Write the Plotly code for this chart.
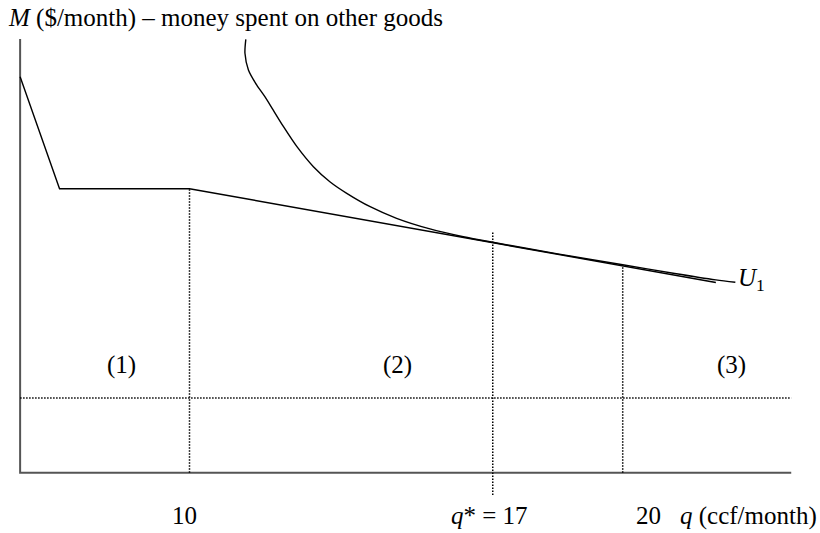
import plotly.graph_objects as go

# Quantity of water q (ccf/month) and money for other goods M ($/month)
Q_AXIS_MIN, Q_AXIS_MAX = 6.09, 23.89
M_AXIS_MAX = 216.9

# Block-rate budget constraint
Q_BUDGET = [6.09, 7.0, 10.0, 22.15]
M_BUDGET = [198.0, 142.0, 142.0, 95.1]

# Indifference curve U1, tangent to the budget at q* = 17
Q_IC = [11.30, 11.28, 11.36, 11.55, 11.74, 11.93, 12.17, 12.48, 12.86, 13.24,
        13.63, 14.17, 14.78, 15.55, 16.32, 17.0, 18.5, 20.0, 21.2, 22.15, 22.6]
M_IC = [216.7, 209.7, 201.4, 193.9, 188.0, 181.4, 173.0, 163.0, 153.0, 145.5,
        139.7, 133.0, 127.2, 121.9, 118.0, 115.2, 109.4, 104.0, 99.6, 96.4, 95.2]

# Reference quantities and the tops/bottoms of their guide lines
Q_MARKS = [10, 17, 20]
M_GUIDE_TOP = [142.0, 120.5, 103.8]
M_GUIDE_BOTTOM = [0.0, -11.2, 0.0]
M_REGION_LINE = 37.4

REGION_LABELS = ["(1)", "(2)", "(3)"]
REGION_Q = [8.42, 14.79, 22.50]
REGION_M = 53.9

TICK_TEXT = ["10", "<i>q</i>* = 17", "20"]
TICK_SHIFT = [-5, -3, 26]

FONT = "Liberation Serif"
fig = go.Figure()

# axes spines
fig.add_trace(go.Scatter(x=[Q_AXIS_MIN, Q_AXIS_MIN, Q_AXIS_MAX], y=[M_AXIS_MAX, 0, 0],
                         mode="lines", line=dict(color="#555555", width=2),
                         hoverinfo="skip", showlegend=False))

# dotted guides
dot = dict(color="black", width=1.5, dash="1.5px,1.5px")
fig.add_trace(go.Scatter(x=[Q_AXIS_MIN, Q_AXIS_MAX], y=[M_REGION_LINE, M_REGION_LINE],
                         mode="lines", line=dot, hoverinfo="skip", showlegend=False))
for q, top, bot in zip(Q_MARKS, M_GUIDE_TOP, M_GUIDE_BOTTOM):
    fig.add_trace(go.Scatter(x=[q, q], y=[bot, top], mode="lines", line=dot,
                             hoverinfo="skip", showlegend=False))

# budget line
fig.add_trace(go.Scatter(x=Q_BUDGET, y=M_BUDGET, mode="lines",
                         line=dict(color="black", width=1.4), showlegend=False))
# indifference curve
fig.add_trace(go.Scatter(x=Q_IC, y=M_IC, mode="lines",
                         line=dict(color="black", width=1.4, shape="spline", smoothing=0.8),
                         showlegend=False))

ann_font = dict(family=FONT, size=25, color="black")
annotations = [
    dict(x=6 / 820, y=1 - 18 / 533, xref="paper", yref="paper", xanchor="left", yanchor="middle",
         text="<i>M</i> ($/month) – money spent on other goods", showarrow=False, font=ann_font),
    dict(x=22.62, y=96.5, xref="x", yref="y", xanchor="left", yanchor="middle",
         text="<i>U</i><sub>1</sub>", showarrow=False, font=ann_font),
    dict(x=819 / 820, y=1 - 516 / 533, xref="paper", yref="paper", xanchor="right", yanchor="middle",
         text="<i>q</i> (ccf/month)", showarrow=False, font=ann_font),
]
for lab, q in zip(REGION_LABELS, REGION_Q):
    annotations.append(dict(x=q, y=REGION_M, xref="x", yref="y", text=lab, showarrow=False,
                            xanchor="center", yanchor="middle", font=ann_font))
for lab, q, sh in zip(TICK_TEXT, Q_MARKS, TICK_SHIFT):
    annotations.append(dict(x=q, y=-21.6, xref="x", yref="y", text=lab, showarrow=False,
                            xanchor="center", yanchor="middle", xshift=sh, font=ann_font))

fig.update_layout(
    width=820, height=533,
    margin=dict(l=0, r=0, t=0, b=0),
    paper_bgcolor="white", plot_bgcolor="white",
    xaxis=dict(range=[5.6256, 24.554], visible=False, fixedrange=True),
    yaxis=dict(range=[-30.15, 236.35], visible=False, fixedrange=True),
    annotations=annotations,
    showlegend=False,
)

fig.write_html("out.html")
